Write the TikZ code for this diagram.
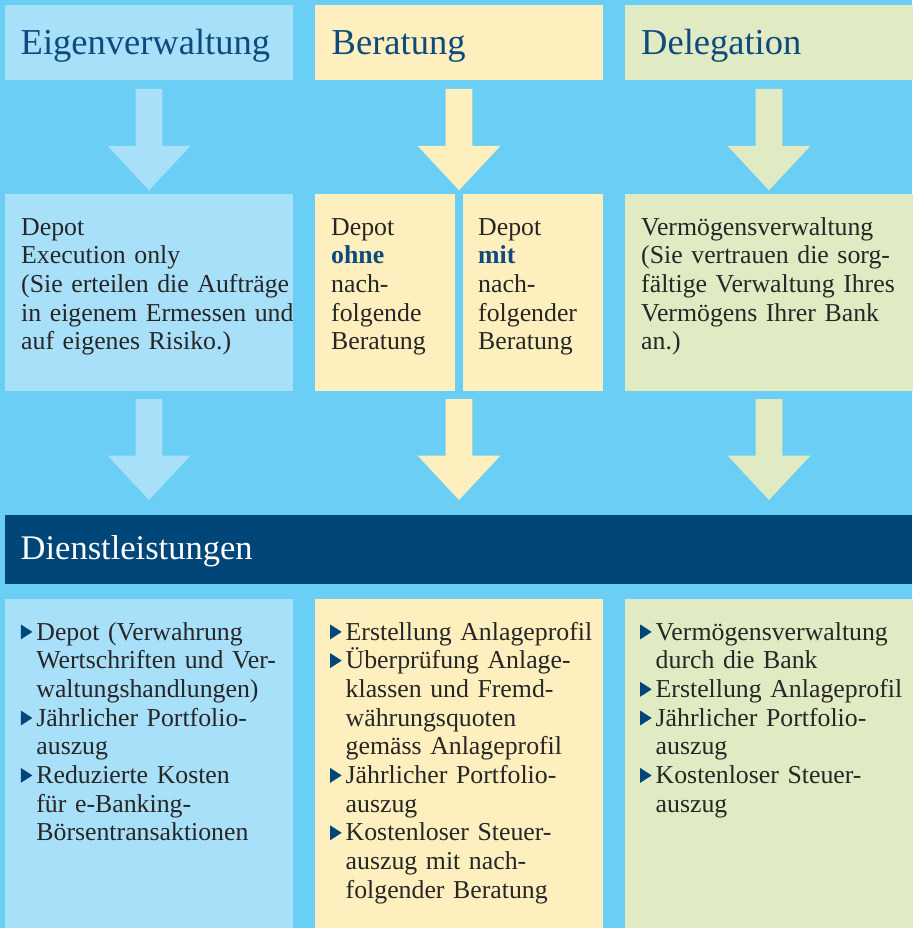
\documentclass[tikz,border=0pt]{standalone}
\usepackage{fontspec}
\setmainfont{Liberation Serif}
\usetikzlibrary{calc}

\definecolor{bgblue}{HTML}{6BCEF4}
\definecolor{eigcol}{HTML}{A9E0F9}
\definecolor{bercol}{HTML}{FDEFBE}
\definecolor{delcol}{HTML}{E0EBC3}
\definecolor{navy}{HTML}{004678}
\definecolor{headtext}{HTML}{0E4A7C}
\definecolor{bodytext}{HTML}{262626}

% bullet triangle and hanging indent for the service lists
\newcommand{\tri}{\makebox[15.5pt][l]{\tikz[baseline=0pt]\fill[navy] (0pt,0.7pt) -- (0pt,15.5pt) -- (11.5pt,8.1pt) -- cycle;}}
\newcommand{\ind}{\hspace*{15.5pt}}
\newcommand{\hl}[1]{\textcolor{headtext}{\textbf{#1}}}

% big block arrow from a start point down to a tip
\newcommand{\blockarrow}[3]{%
    \fill[#1] let \p1=(#2), \p2=(#3) in
        (\x1-13.3pt,\y1) -- (\x1+13.3pt,\y1) -- (\x1+13.3pt,\y2+44.5pt)
        -- (\x1+41.5pt,\y2+44.5pt) -- (\x1,\y2) -- (\x1-41.5pt,\y2+44.5pt)
        -- (\x1-13.3pt,\y2+44.5pt) -- cycle;}

\begin{document}
\begin{tikzpicture}[x=1pt, y=-1pt,
            panel/.style={rectangle, draw=none, inner sep=0, outer sep=0, anchor=north west},
            head/.style={anchor=base west, inner sep=0, text=headtext, font=\fontsize{36.5}{40}\selectfont},
            body/.style={anchor=base west, inner sep=0, text=bodytext, align=left, text width=285pt,
                    font=\fontsize{25.8}{28.7}\selectfont}
        ]

        % background
        \fill[bgblue] (0,0) rectangle (912,928);
        \useasboundingbox (0,0) rectangle (912,928);

        % column panels: heading row and service row
        \foreach \name/\x/\col in {eigen/5/eigcol, berat/315/bercol, deleg/625/delcol} {
                \node[panel, fill=\col, minimum width=288pt, minimum height=75.5pt] (\name H) at (\x,5) {};
                \node[panel, fill=\col, minimum width=288pt, minimum height=329pt] (\name B) at (\x,599) {};
            }

        % middle row
        \node[panel, fill=eigcol, minimum width=288pt, minimum height=197pt] (eigenM) at (5,194) {};
        \node[panel, fill=bercol, minimum width=140pt, minimum height=197pt] (ohneM) at (315,194) {};
        \node[panel, fill=bercol, minimum width=140pt, minimum height=197pt] (mitM) at (463,194) {};
        \node[panel, fill=delcol, minimum width=288pt, minimum height=197pt] (delegM) at (625,194) {};

        % dark band
        \node[panel, fill=navy, minimum width=907pt, minimum height=69pt] (band) at (5,515) {};

        \coordinate (beratMtop) at ($(ohneM.north east)!0.5!(mitM.north west)$);
        \coordinate (beratMbot) at ($(ohneM.south east)!0.5!(mitM.south west)$);

        % arrows
        \blockarrow{eigcol}{$(eigenH.south)+(0,8.5)$}{$(eigenM.north)+(0,-3.7)$}
        \blockarrow{bercol}{$(beratH.south)+(0,8.5)$}{$(beratMtop)+(0,-3.7)$}
        \blockarrow{delcol}{$(delegH.south)+(0,8.5)$}{$(delegM.north)+(0,-3.7)$}
        \blockarrow{eigcol}{$(eigenM.south)+(0,8)$}{$(eigenM.south |- band.north)+(0,-15)$}
        \blockarrow{bercol}{$(beratMbot)+(0,8)$}{$(beratMbot |- band.north)+(0,-15)$}
        \blockarrow{delcol}{$(delegM.south)+(0,8)$}{$(delegM.south |- band.north)+(0,-15)$}

        % headings
        \node[head] (eigenT) at (20.5,54.3) {Eigenverwaltung};
        \node[head] (beratT) at (331.5,54.3) {Beratung};
        \node[head] (delegT) at (641,54.3) {Delegation};
        \node[head, text=white, font=\fontsize{34.5}{38}\selectfont] (bandT) at (20.5,559) {Dienstleistungen};

        % middle texts
        \node[body] (eigenMT) at (21,235) {Depot\\Execution only\\(Sie erteilen die Aufträge\\in eigenem Ermessen und\\auf eigenes Risiko.)};
        \node[body] (ohneMT) at (331,235) {Depot\\\hl{ohne}\\nach-\\folgende\\Beratung};
        \node[body] (mitMT) at (478,235) {Depot\\\hl{mit}\\nach-\\folgender\\Beratung};
        \node[body] (delegMT) at (641,235) {Vermögensverwaltung\\(Sie vertrauen die sorg-\\fältige Verwaltung Ihres\\Vermögens Ihrer Bank\\an.)};

        % service lists
        \node[body] (eigenBT) at (20.7,640) {\tri Depot (Verwahrung\\\ind Wertschriften und Ver-\\\ind waltungshandlungen)\\\tri Jährlicher Portfolio-\\\ind auszug\\\tri Reduzierte Kosten\\\ind für e-Banking-\\\ind Börsentransaktionen};
        \node[body] (beratBT) at (330,640) {\tri Erstellung Anlageprofil\\\tri Überprüfung Anlage-\\\ind klassen und Fremd-\\\ind währungsquoten\\\ind gemäss Anlageprofil\\\tri Jährlicher Portfolio-\\\ind auszug\\\tri Kostenloser Steuer-\\\ind auszug mit nach-\\\ind folgender Beratung};
        \node[body] (delegBT) at (640,640) {\tri Vermögensverwaltung\\\ind durch die Bank\\\tri Erstellung Anlageprofil\\\tri Jährlicher Portfolio-\\\ind auszug\\\tri Kostenloser Steuer-\\\ind auszug};
    \end{tikzpicture}
\end{document}
